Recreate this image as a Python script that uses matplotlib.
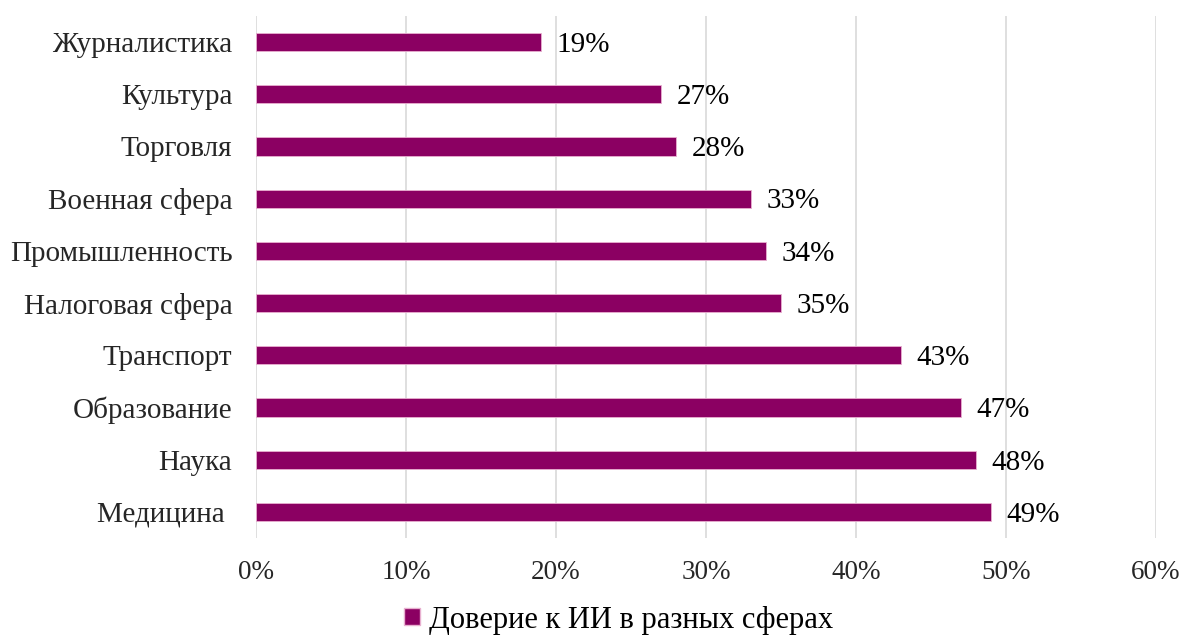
import matplotlib.pyplot as plt
from matplotlib.patches import Patch
from matplotlib.ticker import FuncFormatter

categories = ["Медицина ", "Наука", "Образование", "Транспорт", "Налоговая сфера",
              "Промышленность", "Военная сфера", "Торговля", "Культура", "Журналистика"]
values = [49, 48, 47, 43, 35, 34, 33, 28, 27, 19]
series_name = "Доверие к ИИ в разных сферах"
x_ticks = [0, 10, 20, 30, 40, 50, 60]

bar_color = "#8B0062"
grid_color = "#D9D9D9"

plt.rcParams["font.family"] = ["Liberation Serif", "DejaVu Serif"]

fig = plt.figure(figsize=(11.83, 6.39), dpi=100, facecolor="white")
ax = fig.add_axes([0.2164, 0.158, 0.7608, 0.817])

r = list(range(len(categories)))
bars = ax.barh(r, values, height=0.35, color=bar_color, edgecolor="#E8B0D0", linewidth=0.6, zorder=3)

for p, v in zip(bars, values):
    ax.annotate(f"{v}%", xy=(p.get_width(), p.get_y() + p.get_height() / 2),
                xytext=(11, -2), textcoords="offset points", ha="left", va="center",
                fontsize=21, color="black")

ax.set_xlim(0, 60)
ax.set_ylim(-0.5, len(categories) - 0.5)
ax.set_xticks(x_ticks)
ax.xaxis.set_major_formatter(FuncFormatter(lambda v, _: f"{int(v)}%"))
ax.set_yticks(r)
ax.set_yticklabels(categories, fontsize=21, color="#262626")
ax.tick_params(axis="x", labelsize=19.5, colors="#262626", length=0, pad=16)
ax.tick_params(axis="y", length=0, pad=17)

ax.grid(axis="x", color=grid_color, linewidth=1.2, zorder=0)
for s in ["top", "right", "bottom", "left"]:
    ax.spines[s].set_visible(False)

handle = Patch(facecolor=bar_color, edgecolor="#E8B0D0")
fig.legend(handles=[handle], labels=[series_name], loc="lower center",
           bbox_to_anchor=(0.523, -0.036), frameon=False, fontsize=22,
           handlelength=0.5, handleheight=0.5, handletextpad=0.3)

fig.savefig("out.png", dpi=100, facecolor="white")
